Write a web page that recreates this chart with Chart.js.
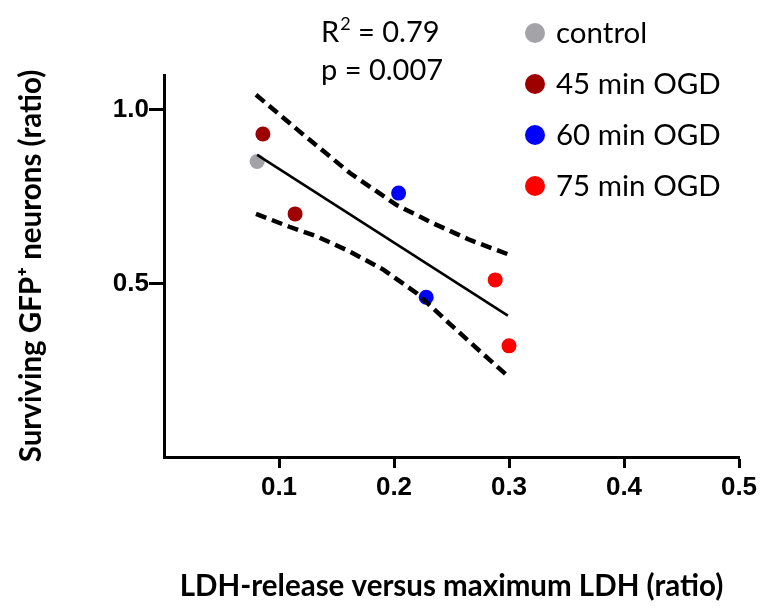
<!DOCTYPE html>
<html>
<head>
<meta charset="utf-8">
<script src="https://cdn.jsdelivr.net/npm/chart.js@4.4.1/dist/chart.umd.min.js"></script>
<style>
  html, body { margin: 0; padding: 0; background: #fff; }
  #wrap { width: 762px; height: 608px; }
</style>
</head>
<body>
<div id="wrap"><canvas id="grafico" width="762" height="608"></canvas></div>
<script>
// ── Datos ──────────────────────────────────────────────
const grupos  = ['control', '45 min OGD', '60 min OGD', '75 min OGD'];
const colores = ['#A3A3A8', '#9E0000', '#0000FF', '#FF0000'];

const controlX = [0.081];
const controlY = [0.851];
const ogd45X   = [0.086, 0.114];
const ogd45Y   = [0.930, 0.700];
const ogd60X   = [0.204, 0.228];
const ogd60Y   = [0.760, 0.460];
const ogd75X   = [0.288, 0.300];
const ogd75Y   = [0.510, 0.320];

// recta de regresion y banda de confianza (trazadas a ojo)
const ajusteX   = [0.081, 0.299];
const ajusteY   = [0.870, 0.407];
const bandaSupX = [0.080, 0.118, 0.162, 0.202, 0.234, 0.266, 0.299];
const bandaSupY = [1.043, 0.937, 0.817, 0.726, 0.673, 0.625, 0.584];
const bandaInfX = [0.080, 0.109, 0.133, 0.162, 0.191, 0.220, 0.248, 0.277, 0.298];
const bandaInfY = [0.700, 0.663, 0.635, 0.591, 0.539, 0.471, 0.385, 0.298, 0.236];

const xTicks = [0.1, 0.2, 0.3, 0.4, 0.5];
const yTicks = [0.5, 1.0];
const r2Valor = '0.79';
const pTexto  = 'p = 0.007';

const FUENTE = 'Lato, "Open Sans", sans-serif';

function pares(xs, ys) {
    return xs.map((x, i) => ({ x: x, y: ys[i] }));
}

function puntos(label, xs, ys, color) {
    return {
        label: label,
        data: pares(xs, ys),
        backgroundColor: color,
        borderColor: color,
        borderWidth: 0,
        pointRadius: 7.5,
        pointHoverRadius: 7.5,
        showLine: false,
        order: 1
    };
}

function linea(xs, ys, ancho, dash) {
    return {
        label: '',
        data: pares(xs, ys),
        borderColor: '#000',
        borderWidth: ancho,
        borderDash: dash,
        pointRadius: 0,
        showLine: true,
        fill: false,
        tension: 0,
        order: 0,
        esLinea: true
    };
}

// — leyenda y texto de estadisticos —
const extras = {
    id: 'extras',
    afterDraw(chart) {
        const ctx = chart.ctx;
        ctx.save();
        ctx.textAlign = 'left';
        ctx.textBaseline = 'alphabetic';
        ctx.fillStyle = '#000';

        // R^2 y p
        ctx.font = '29px ' + FUENTE;
        ctx.fillText('R', 321, 42);
        let w = ctx.measureText('R').width;
        ctx.font = '18px ' + FUENTE;
        ctx.fillText('2', 321 + w + 1, 30);
        let w2 = ctx.measureText('2').width;
        ctx.font = '29px ' + FUENTE;
        ctx.fillText(' = ' + r2Valor, 321 + w + w2 + 1, 42);
        ctx.fillText(pTexto, 321, 80);

        // leyenda
        const sets = chart.data.datasets.filter(d => !d.esLinea);
        sets.forEach((d, i) => {
            const cy = 33 + i * 51;
            ctx.beginPath();
            ctx.arc(535, cy, 10, 0, Math.PI * 2);
            ctx.fillStyle = d.backgroundColor;
            ctx.fill();
            ctx.fillStyle = '#000';
            ctx.font = '29.5px ' + FUENTE;
            ctx.fillText(d.label, 556, cy + 10);
        });
        ctx.restore();
    }
};

const ctx = document.getElementById('grafico').getContext('2d');

const grafico = new Chart(ctx, {
    type: 'scatter',
    data: {
        datasets: [
            linea(ajusteX, ajusteY, 2.5, []),
            linea(bandaSupX, bandaSupY, 4.5, [11, 6]),
            linea(bandaInfX, bandaInfY, 4.5, [11, 6]),
            puntos(grupos[0], controlX, controlY, colores[0]),
            puntos(grupos[1], ogd45X, ogd45Y, colores[1]),
            puntos(grupos[2], ogd60X, ogd60Y, colores[2]),
            puntos(grupos[3], ogd75X, ogd75Y, colores[3])
        ]
    },
    options: {
        responsive: false,
        devicePixelRatio: 1,
        animation: false,
        layout: { padding: { left: 0, top: 75, right: 23, bottom: 0 } },
        plugins: {
            legend: { display: false },
            tooltip: { enabled: false }
        },
        scales: {
            x: {
                type: 'linear',
                min: 0,
                max: 0.5,
                afterFit: s => { s.height = 151; },
                afterBuildTicks: s => { s.ticks = xTicks.map(v => ({ value: v })); },
                border: { display: true, color: '#000', width: 3 },
                grid: { drawOnChartArea: false, drawTicks: true, tickLength: 11, tickWidth: 3, tickColor: '#000' },
                ticks: {
                    color: '#000',
                    padding: 4,
                    font: { family: '"Liberation Sans", Arial, sans-serif', size: 26, weight: 'bold' },
                    callback: v => v.toFixed(1)
                },
                title: {
                    display: true,
                    text: 'LDH-release versus maximum LDH (ratio)',
                    color: '#000',
                    font: { family: FUENTE, size: 29.5, weight: 'bold' },
                    padding: { top: 0, bottom: 4 }
                }
            },
            y: {
                type: 'linear',
                min: 0,
                max: 1.1,
                afterFit: s => { s.width = 164; },
                afterBuildTicks: s => { s.ticks = yTicks.map(v => ({ value: v })); },
                border: { display: true, color: '#000', width: 3 },
                grid: { drawOnChartArea: false, drawTicks: true, tickLength: 15, tickWidth: 3, tickColor: '#000' },
                ticks: {
                    color: '#000',
                    padding: 0,
                    font: { family: '"Liberation Sans", Arial, sans-serif', size: 26, weight: 'bold' },
                    callback: v => v.toFixed(1)
                },
                title: {
                    display: true,
                    text: 'Surviving GFP\u207A neurons (ratio)',
                    color: '#000',
                    font: { family: FUENTE, size: 29.5, weight: 'bold' },
                    padding: { top: 14, bottom: 0 }
                }
            }
        }
    },
    plugins: [extras]
});
</script>
</body>
</html>
